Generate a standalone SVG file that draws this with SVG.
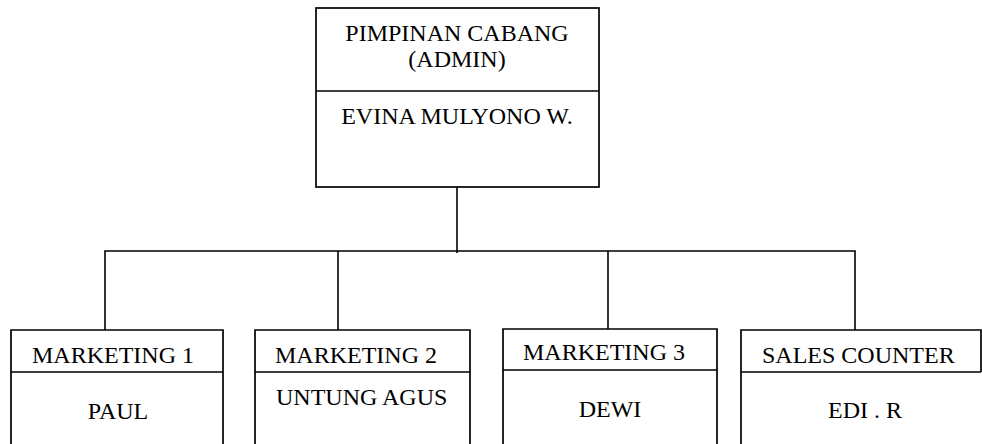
<svg xmlns="http://www.w3.org/2000/svg" width="982" height="444" viewBox="0 0 982 444">
<style>
.b{fill:none;stroke:#000;stroke-width:1.7}
.c{fill:none;stroke:#000;stroke-width:1.6}
text{font-family:"Liberation Serif","Times New Roman",serif;font-size:24px;fill:#000}
.m{text-anchor:middle}
</style>
<rect width="982" height="444" fill="#fff"/>
<g id="connectors">
<line class="c" x1="457" y1="187" x2="457" y2="253"/>
<polyline class="c" points="105,330 105,251 855,251 855,330"/>
<line class="c" x1="338" y1="251" x2="338" y2="330"/>
<line class="c" x1="608" y1="251" x2="608" y2="329"/>
</g>
<g id="pimpinan">
<rect class="b" x="316" y="8" width="283" height="179"/>
<line class="b" x1="316" y1="91" x2="599" y2="91"/>
<text class="m" x="457" y="41">PIMPINAN CABANG</text>
<text class="m" x="457" y="67">(ADMIN)</text>
<text class="m" x="457" y="124">EVINA MULYONO W.</text>
</g>
<g id="marketing1">
<path class="b" d="M11,446 V330 H223 V446 M11,372 H223"/>
<text x="32" y="363">MARKETING 1</text>
<text class="m" x="118" y="419">PAUL</text>
</g>
<g id="marketing2">
<path class="b" d="M255,446 V330 H470 V446 M255,372 H470"/>
<text x="275" y="363">MARKETING 2</text>
<text x="276" y="405">UNTUNG AGUS</text>
</g>
<g id="marketing3">
<path class="b" d="M503,446 V329 H717 V446 M503,370 H717"/>
<text x="523" y="360">MARKETING 3</text>
<text class="m" x="610" y="417">DEWI</text>
</g>
<g id="sales">
<path class="b" d="M741,446 V330 H981 V372 M741,372 H981"/>
<text x="762" y="363">SALES COUNTER</text>
<text class="m" x="865" y="418">EDI . R</text>
</g>
</svg>
